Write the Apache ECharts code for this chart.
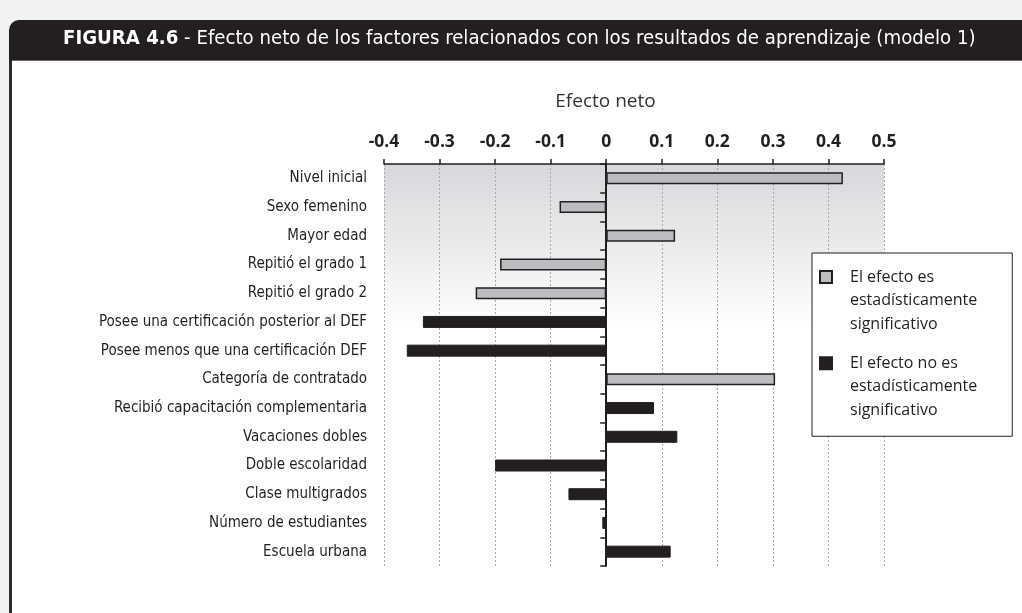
<!DOCTYPE html>
<html>
<head>
<meta charset="utf-8">
<script src="https://cdn.jsdelivr.net/npm/echarts@6/dist/echarts.min.js"></script>
<style>
  html, body { margin: 0; padding: 0; background: #f1f2f4; }
  #chart { width: 1022px; height: 613px; }
</style>
</head>
<body>
<div id="chart"></div>
<script>
// Factors, top to bottom
const categories = [
  'Nivel inicial',
  'Sexo femenino',
  'Mayor edad',
  'Repitió el grado 1',
  'Repitió el grado 2',
  'Posee una certificación posterior al DEF',
  'Posee menos que una certificación DEF',
  'Categoría de contratado',
  'Recibió capacitación complementaria',
  'Vacaciones dobles',
  'Doble escolaridad',
  'Clase multigrados',
  'Número de estudiantes',
  'Escuela urbana'
];

// Net effect of each factor ('-' where the factor belongs to the other group)
const significant = [0.426, -0.084, 0.124, -0.191, -0.235, '-', '-', 0.304, '-', '-', '-', '-', '-', '-'];
const notSignificant = ['-', '-', '-', '-', '-', -0.330, -0.359, '-', 0.086, 0.128, -0.200, -0.068, -0.007, 0.116];

const seriesNames = [
  'El efecto es estadísticamente significativo',
  'El efecto no es estadísticamente significativo'
];
const legendLines = {
  'El efecto es estadísticamente significativo': ['El efecto es', 'estadísticamente', 'significativo'],
  'El efecto no es estadísticamente significativo': ['El efecto no es', 'estadísticamente', 'significativo']
};

const xTicks = { min: -0.4, max: 0.5, interval: 0.1 };

const INK = '#231f20';
const LABEL_FONT = '"Liberation Sans Narrow", "DejaVu Sans Condensed", sans-serif';
const BODY_FONT = '"Open Sans", "Noto Sans", sans-serif';

const chart = echarts.init(document.getElementById('chart'));

chart.setOption({
  backgroundColor: '#f1f2f4',
  animation: false,
  title: {
    left: 63,
    top: 29,
    padding: 0,
    text: '{b|FIGURA 4.6}{r| - Efecto neto de los factores relacionados con los resultados de aprendizaje (modelo 1)}',
    textStyle: {
      rich: {
        b: { fontFamily: LABEL_FONT, fontWeight: 'bold', fontSize: 20.2, color: '#ffffff' },
        r: { fontFamily: LABEL_FONT, fontWeight: 'normal', fontSize: 20.2, color: '#ffffff' }
      }
    }
  },
  graphic: [
    { type: 'rect', z: -10, shape: { x: 12, y: 60, width: 1010, height: 553 }, style: { fill: '#ffffff' } },
    { type: 'rect', z: -10, shape: { x: 9, y: 60, width: 3, height: 553 }, style: { fill: '#2b2829' } },
    { type: 'rect', z: -10, shape: { x: 9, y: 20, width: 1013, height: 40, r: [10, 0, 0, 0] }, style: { fill: INK } },
    { type: 'rect', z: -10, shape: { x: 12, y: 60, width: 1010, height: 1 }, style: { fill: '#6d6a6b' } }
  ],
  grid: {
    left: 384,
    right: 138,
    top: 164,
    bottom: 47,
    show: true,
    borderWidth: 0,
    backgroundColor: {
      type: 'linear', x: 0, y: 0, x2: 0, y2: 1,
      colorStops: [
        { offset: 0, color: '#d6d7da' },
        { offset: 0.4, color: '#ffffff' },
        { offset: 1, color: '#ffffff' }
      ]
    }
  },
  legend: {
    orient: 'vertical',
    left: 812,
    top: 253,
    padding: [12.25, 35, 18, 7],
    itemGap: 19.5,
    itemWidth: 12,
    itemHeight: 12,
    icon: 'rect',
    backgroundColor: '#ffffff',
    borderColor: INK,
    borderWidth: 1,
    selectedMode: false,
    data: seriesNames,
    formatter: function (name) {
      return legendLines[name].map(function (l) { return '{s|}' + l; }).join('\n');
    },
    textStyle: {
      fontFamily: BODY_FONT,
      fontSize: 16,
      color: INK,
      lineHeight: 23.5,
      padding: [0, 0, -47, 0],
      rich: {
        s: { width: 13 }
      }
    }
  },
  xAxis: {
    type: 'value',
    position: 'top',
    min: xTicks.min,
    max: xTicks.max,
    interval: xTicks.interval,
    name: 'Efecto neto',
    nameLocation: 'middle',
    nameGap: 53,
    nameTextStyle: { fontFamily: BODY_FONT, fontSize: 19, color: '#333', padding: [0, 57, 0, 0] },
    axisLine: { show: true, onZero: false, lineStyle: { color: INK, width: 1.5 } },
    axisTick: { show: true, length: 5, lineStyle: { color: INK, width: 1.5 } },
    axisLabel: {
      margin: 13,
      fontFamily: BODY_FONT,
      fontWeight: 'bold',
      fontSize: 17.5,
      color: INK,
      formatter: function (v) { return Math.abs(v) < 1e-9 ? '0' : v.toFixed(1); }
    },
    splitLine: { show: true, lineStyle: { color: '#a9a9a9', width: 1, type: [2, 2] } }
  },
  yAxis: [
    {
      type: 'category',
      data: categories,
      inverse: true,
      axisLine: { show: true, onZero: true, lineStyle: { color: INK, width: 2 } },
      axisTick: { show: true, length: 6, lineStyle: { color: INK, width: 1.5 } },
      axisLabel: { show: false },
      splitLine: { show: false }
    },
    {
      type: 'category',
      data: categories,
      inverse: true,
      position: 'left',
      axisLine: { show: false, onZero: false },
      axisTick: { show: false },
      axisLabel: { margin: 17, fontFamily: LABEL_FONT, fontSize: 15, color: INK },
      splitLine: { show: false }
    }
  ],
  series: [
    {
      name: seriesNames[0],
      type: 'bar',
      yAxisIndex: 0,
      data: significant,
      barWidth: 12,
      barGap: '-100%',
      itemStyle: { color: '#bcbdc1', borderColor: INK, borderWidth: 1.5 },
      z: 3
    },
    {
      name: seriesNames[1],
      type: 'bar',
      yAxisIndex: 0,
      data: notSignificant,
      barWidth: 12,
      barGap: '-100%',
      itemStyle: { color: INK, borderColor: INK, borderWidth: 1 },
      z: 3
    }
  ]
});
</script>
</body>
</html>
